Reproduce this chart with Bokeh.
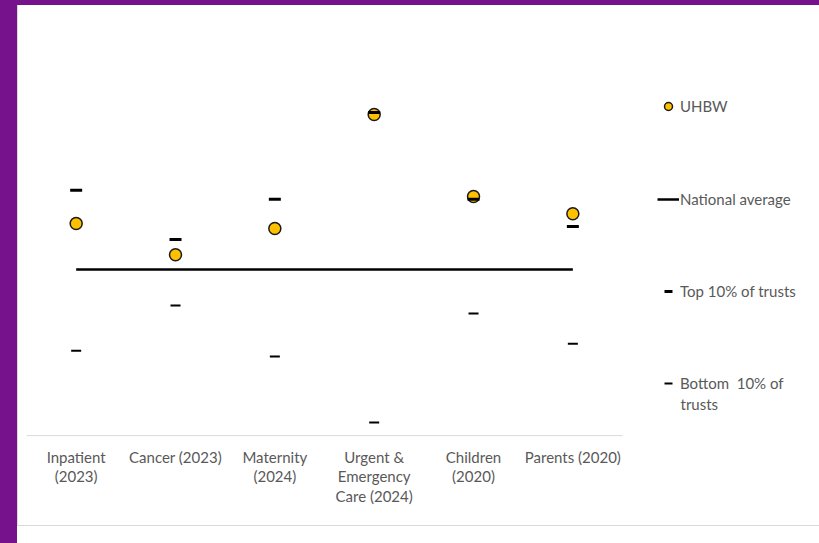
from bokeh.plotting import figure
from bokeh.models import Div, Legend, LegendItem, Range1d, FixedTicker, Label
from bokeh.layouts import row, column
from bokeh.embed import file_html
from bokeh.resources import INLINE

# ---- data (arbitrary score units) ----
categories = ["Inpatient\n(2023)", "Cancer (2023)", "Maternity\n(2024)",
              "Urgent &\nEmergency\nCare (2024)", "Children\n(2020)", "Parents (2020)"]
uhbw = [51.7, 44.1, 50.5, 78.3, 58.3, 54.1]
national_average = [40.5, 40.5, 40.5, 40.5, 40.5, 40.5]
top_10 = [59.8, 47.8, 57.6, 78.8, 57.6, 51.0]
bottom_10 = [20.7, 31.7, 19.3, 3.2, 29.8, 22.4]

PURPLE = "#76128C"
GREY_TXT = "#595959"
FONT = "Lato"
FS = "15px"

# category centre positions on a numeric axis (one unit per category)
xpos = [i + 0.5 for i in range(len(categories))]

p = figure(x_range=Range1d(0, 7.983), y_range=Range1d(-1.2, 100),
           frame_width=793, frame_height=415,
           min_border_left=8, min_border_right=0,
           min_border_top=20, min_border_bottom=85,
           output_backend="svg", toolbar_location=None,
           y_axis_type=None)
p.outline_line_color = None
p.xgrid.grid_line_color = None
p.ygrid.grid_line_color = None
p.background_fill_color = "white"
p.border_fill_color = "white"

ax = p.xaxis[0]
ax.ticker = FixedTicker(ticks=xpos)
ax.major_label_overrides = {x: c for x, c in zip(xpos, categories)}
ax.axis_line_color = None
ax.major_tick_line_color = None
ax.minor_tick_line_color = None
ax.major_tick_out = 0
ax.major_tick_in = 0
ax.major_label_standoff = 7
ax.major_label_text_font = FONT
ax.major_label_text_font_size = FS
ax.major_label_text_color = GREY_TXT
ax.major_label_text_line_height = 1.11

# category axis baseline (spans the six categories only)
p.segment(x0=[0], y0=[0], x1=[len(categories)], y1=[0], line_color="#D9D9D9", line_width=1)

r_u = p.scatter(x=xpos, y=uhbw, marker="circle", size=12,
                fill_color="#FFC000", line_color="#1a1a1a", line_width=1.5)
r_n = p.line(x=xpos, y=national_average, line_color="black", line_width=2.5)
r_t = p.scatter(x=xpos, y=top_10, marker="dash", size=12,
                line_color="black", line_width=3)
r_b = p.scatter(x=xpos, y=bottom_10, marker="dash", size=10,
                line_color="black", line_width=2)


def add_legend(label, rend, vy):
    lg = Legend(items=[LegendItem(label=label, renderers=[rend])],
                location=(631, vy), margin=0, padding=0,
                border_line_color=None, background_fill_alpha=0,
                glyph_width=22, glyph_height=20, label_standoff=1,
                label_text_font=FONT, label_text_font_size=FS,
                label_text_color=GREY_TXT)
    p.add_layout(lg)


add_legend("UHBW", r_u, 324)
add_legend("National average", r_n, 231)
add_legend("Top 10% of trusts", r_t, 139)
add_legend("Bottom  10% of", r_b, 47)

# wrapped second line of the last legend label
p.add_layout(Label(x=654, y=37, x_units="screen", y_units="screen", text="trusts",
                   text_font=FONT, text_font_size=FS, text_color=GREY_TXT,
                   text_baseline="middle", text_align="left"))


def box(w, h, color):
    return Div(width=w, height=h, styles={"background-color": color, "margin": "0", "padding": "0"})


layout = row(
    box(17, 543, PURPLE),
    column(
        box(802, 5, PURPLE),
        row(box(1, 520, "#D9D9D9"), p, spacing=0),
        box(802, 1, "#D9D9D9"),
        box(802, 17, "white"),
        spacing=0,
    ),
    spacing=0,
)

open("out.html", "w").write(file_html(layout, INLINE))
